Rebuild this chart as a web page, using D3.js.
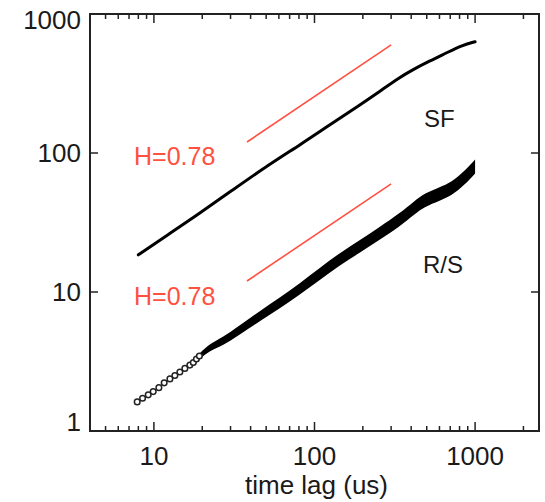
<!DOCTYPE html>
<html>
<head>
<meta charset="utf-8">
<script src="https://cdn.jsdelivr.net/npm/d3@7/dist/d3.min.js"></script>
<style>
  html, body { margin: 0; padding: 0; background: #fff; }
  svg { display: block; }
  text { font-family: "Liberation Sans", Arial, sans-serif; }
</style>
</head>
<body>
<svg id="chart" width="545" height="502"></svg>
<script>
// ---- data ----
const xMajorTicks = [10, 100, 1000];
const xMinorTicks = [5, 6, 7, 8, 9, 20, 30, 40, 50, 60, 70, 80, 90, 200, 300, 400, 500, 600, 700, 800, 900, 2000];
const yMajorTicks = [1, 10, 100, 1000];
const xTickLabels = ["10", "100", "1000"];
const yTickLabels = ["1", "10", "100", "1000"];

// Structure function curve
const sfLag = [8, 12.6, 19.3, 29.7, 52.6, 80.9, 124, 191, 254, 339, 408, 520, 661, 835, 1000];
const sfVal = [18.5, 26.4, 37.0, 52.4, 83.3, 114, 159, 221, 277, 350, 397, 459, 524, 598, 632];

// R/S: individual open markers at short lags
const rsMarkLag = [7.87, 8.5, 9.22, 9.9, 10.74, 11.59, 12.58, 13.51, 14.51, 15.59, 16.75, 17.6, 18.4, 19.2];
const rsMarkVal = [1.62, 1.72, 1.82, 1.92, 2.05, 2.22, 2.37, 2.51, 2.66, 2.82, 2.98, 3.11, 3.30, 3.46];

// R/S: dense (overlapping) markers forming a thick band
const rsLag = [17.6, 19.3, 22.3, 26.5, 34.3, 45.6, 60.8, 80.9, 108, 143, 191, 254, 339, 420, 485, 600, 713, 859, 1000];
const rsVal = [3.11, 3.46, 4.02, 4.37, 5.33, 6.72, 8.33, 10.5, 13.5, 17.2, 21.2, 26.4, 33.0, 40.5, 45.9, 50.7, 55.1, 66.1, 80];

// H = 0.78 reference lines
const refLag = [38, 300];
const refUpper = [120, 600];
const refLower = [12, 60];
const refLabel = "H=0.78";
const curveLabels = ["SF", "R/S"];
const xTitle = "time lag (us)";

// ---- layout ----
const svg = d3.select("#chart");
const L = 90, R = 539, T = 14, B = 431;

const x = d3.scaleLog().domain([4, 2500]).range([L, R]);
const y = d3.scaleLog().domain([1, 1000]).range([B, T]);

const ink = "#1a1a1a";
const red = "#ff5040";

// ---- reference lines ----
const refLine = d3.line().x(d => x(d[0])).y(d => y(d[1]));
svg.append("path").attr("d", refLine(refLag.map((t, i) => [t, refUpper[i]])))
  .attr("fill", "none").attr("stroke", red).attr("stroke-width", 1.6);
svg.append("path").attr("d", refLine(refLag.map((t, i) => [t, refLower[i]])))
  .attr("fill", "none").attr("stroke", red).attr("stroke-width", 1.6);

// ---- SF curve ----
const sfLine = d3.line().x(d => x(d[0])).y(d => y(d[1])).curve(d3.curveBasis);
svg.append("path").attr("d", sfLine(sfLag.map((t, i) => [t, sfVal[i]])))
  .attr("fill", "none").attr("stroke", "#000").attr("stroke-width", 3)
  .attr("stroke-linecap", "round");

// ---- R/S band ----
const bandW = d3.scaleLog().domain([17, 30, 100, 1000]).range([5, 9, 12, 14]).clamp(true);
const rsData = rsLag.map((t, i) => [t, rsVal[i]]);
const band = d3.area()
  .x(d => x(d[0]))
  .y0(d => y(d[1]) - bandW(d[0]) / 2)
  .y1(d => y(d[1]) + bandW(d[0]) / 2)
  .curve(d3.curveBasis);
svg.append("path").attr("d", band(rsData)).attr("fill", "#000");

// ---- R/S markers ----
svg.append("g").selectAll("circle")
  .data(rsMarkLag.map((t, i) => [t, rsMarkVal[i]]))
  .join("circle")
  .attr("cx", d => x(d[0])).attr("cy", d => y(d[1]))
  .attr("r", 2.8)
  .attr("fill", "#fff").attr("stroke", "#222").attr("stroke-width", 1.5);

// ---- frame & ticks ----
const axG = svg.append("g").attr("stroke", "#222");
function tickLines(vals, len, side) {
  vals.forEach(v => {
    if (side === "bottom") axG.append("line").attr("x1", x(v)).attr("x2", x(v)).attr("y1", B).attr("y2", B - len);
    if (side === "top") axG.append("line").attr("x1", x(v)).attr("x2", x(v)).attr("y1", T).attr("y2", T + len);
    if (side === "left") axG.append("line").attr("y1", y(v)).attr("y2", y(v)).attr("x1", L).attr("x2", L + len);
    if (side === "right") axG.append("line").attr("y1", y(v)).attr("y2", y(v)).attr("x1", R).attr("x2", R - len);
  });
}
axG.attr("stroke-width", 1.5);
tickLines(xMajorTicks, 9, "bottom");
tickLines(xMinorTicks, 5, "bottom");
tickLines(xMajorTicks, 9, "top");
tickLines(xMinorTicks, 5, "top");
tickLines(yMajorTicks, 8, "left");
tickLines(yMajorTicks, 8, "right");

svg.append("rect").attr("x", L).attr("y", T).attr("width", R - L).attr("height", B - T)
  .attr("fill", "none").attr("stroke", "#222").attr("stroke-width", 2);

// ---- tick labels ----
svg.append("g").selectAll("text").data(xMajorTicks).join("text")
  .attr("x", d => x(d)).attr("y", 465)
  .attr("text-anchor", "middle").attr("font-size", 26).attr("fill", ink)
  .text((d, i) => xTickLabels[i]);

const yShift = v => (v === 1000 ? 15 : v === 1 ? 0 : 9);
svg.append("g").selectAll("text").data(yMajorTicks).join("text")
  .attr("x", 81).attr("y", d => y(d) + yShift(d))
  .attr("text-anchor", "end").attr("font-size", 26).attr("fill", ink)
  .text((d, i) => yTickLabels[i]);

// ---- axis title ----
svg.append("text").attr("x", (L + R) / 2 + 2).attr("y", 494)
  .attr("text-anchor", "middle").attr("font-size", 26).attr("fill", ink)
  .text(xTitle);

// ---- annotations ----
svg.append("text").attr("x", 134).attr("y", 165).attr("font-size", 25).attr("fill", red).text(refLabel);
svg.append("text").attr("x", 134).attr("y", 305).attr("font-size", 25).attr("fill", red).text(refLabel);
svg.append("text").attr("x", 424).attr("y", 127).attr("font-size", 24).attr("fill", ink).text(curveLabels[0]);
svg.append("text").attr("x", 423).attr("y", 273).attr("font-size", 24).attr("fill", ink).text(curveLabels[1]);
</script>
</body>
</html>
